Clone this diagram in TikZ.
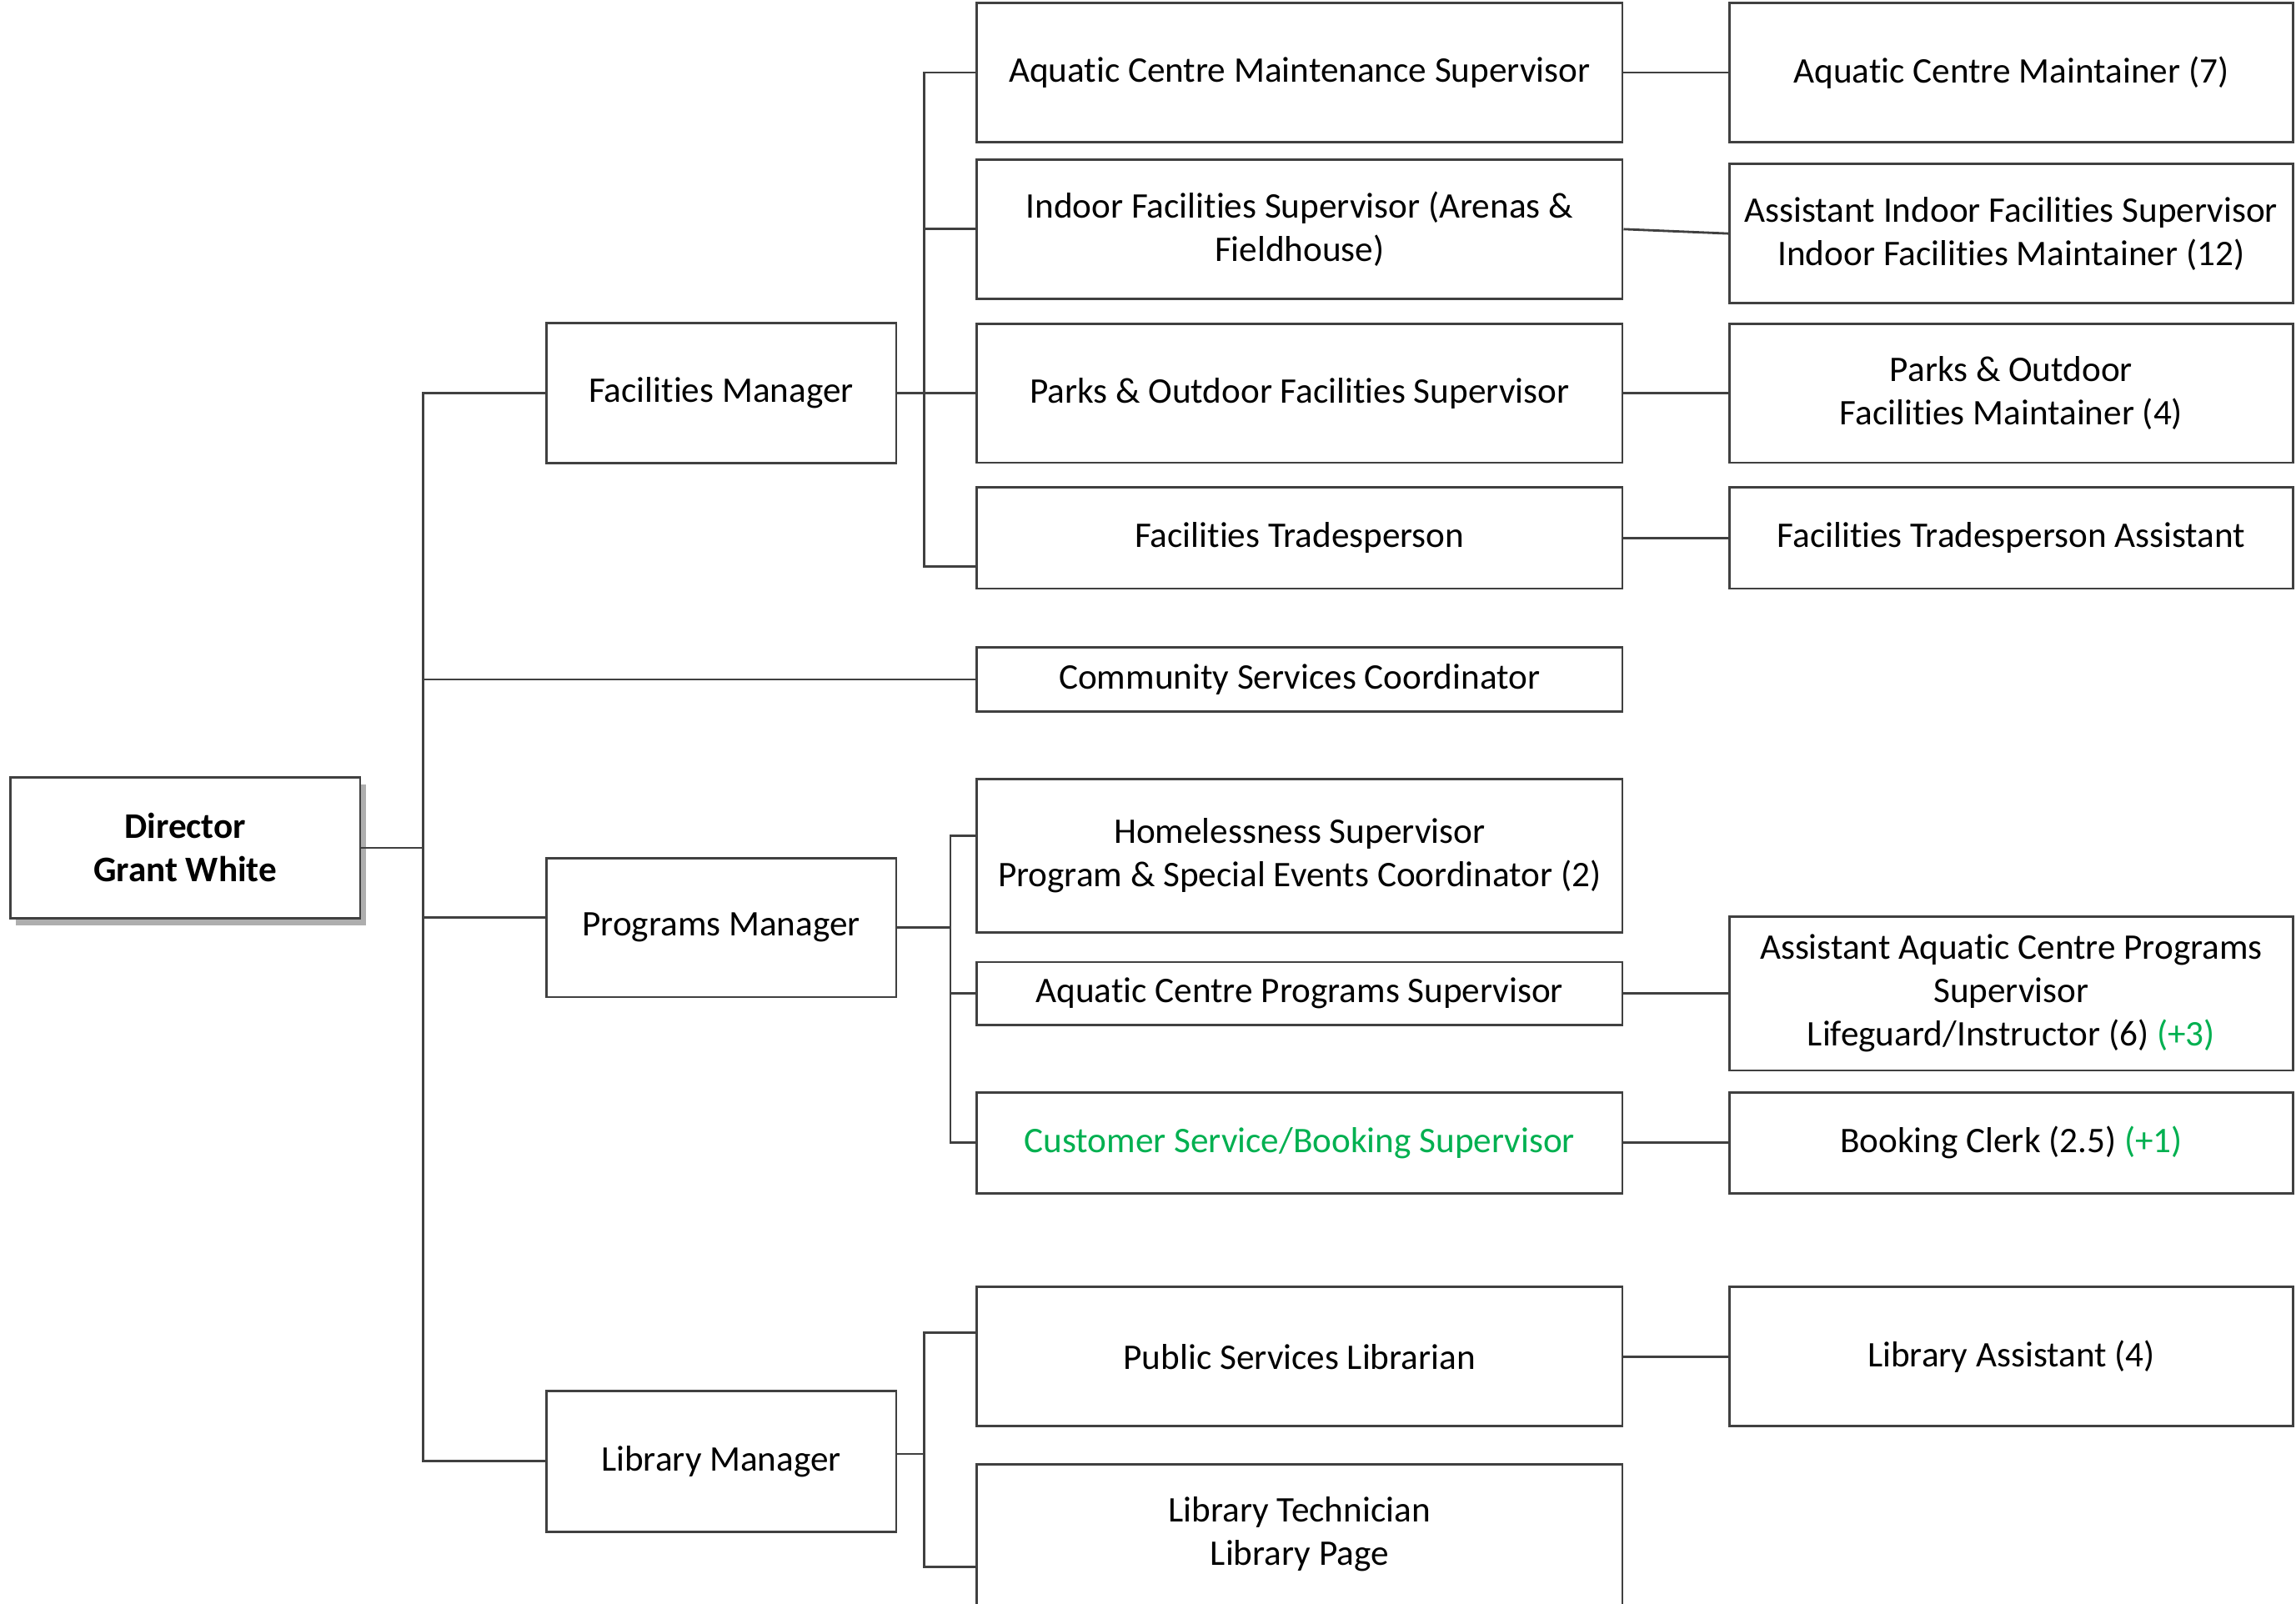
\documentclass[tikz,border=0pt]{standalone}
\usepackage{fontspec}
\setmainfont[RawFeature={-liga;-clig;-calt;-dlig}]{Carlito}
\usepackage{xcolor}
\usepackage{tikz}
\usetikzlibrary{shadows}
\definecolor{newpos}{HTML}{00B050}
\definecolor{edge}{HTML}{404040}

\begin{document}
\begin{tikzpicture}[x=0.5pt, y=-0.5pt, every node/.style={font=\fontsize{12.3pt}{14.8pt}\selectfont},
  box/.style={draw=edge,line width=0.8pt,fill=white,align=center,inner sep=0pt},
  boss/.style={box,minimum width=119.5pt,minimum height=48pt,font=\fontsize{12.3pt}{14.8pt}\selectfont\bfseries,
    drop shadow={shadow xshift=2pt,shadow yshift=-2.5pt,opacity=0.45,fill=black!70}},
  mgr/.style={box,minimum width=119.5pt},
  sup/.style={box,minimum width=220.5pt},
  staff/.style={box,minimum width=192.5pt},
  link/.style={draw=edge,line width=0.8pt}]
\useasboundingbox (0,0) rectangle (1568,1095);
\clip (0,0) rectangle (1568,1095);

% bus lines
\coordinate (trunk) at (289,0);
\coordinate (fbus) at (631,0);
\coordinate (pbus) at (649,0);
\coordinate (lbus) at (631,0);

% director and managers
\node[boss] (dir) at (126.5,579) {Director\\Grant White};
\node[mgr,minimum height=48pt] (fm) at (492.5,268.5) {Facilities Manager};
\node[mgr,minimum height=47.5pt] (pm) at (492.5,633.5) {Programs Manager};
\node[mgr,minimum height=48pt] (lm) at (492.5,998) {Library Manager};

% supervisors
\node[sup,minimum height=47.5pt] (acms) at (887.5,49.5) {Aquatic Centre Maintenance Supervisor};
\node[sup,minimum height=47.5pt] (ifs) at (887.5,156.5) {Indoor Facilities Supervisor (Arenas \&\\Fieldhouse)};
\node[sup,minimum height=47.5pt] (pofs) at (887.5,268.5) {Parks \& Outdoor Facilities Supervisor};
\node[sup,minimum height=34.5pt] (ft) at (887.5,367.5) {Facilities Tradesperson};
\node[sup,minimum height=22pt] (csc) at (887.5,464) {Community Services Coordinator};
\node[sup,minimum height=52.5pt] (hs) at (887.5,584.5) {Homelessness Supervisor\\Program \& Special Events Coordinator (2)};
\node[sup,minimum height=21.5pt] (acps) at (887.5,678.5) {Aquatic Centre Programs Supervisor};
\node[sup,minimum height=34.5pt,text=newpos] (csbs) at (887.5,780.5) {Customer Service/Booking Supervisor};
\node[sup,minimum height=47.5pt] (psl) at (887.5,926.5) {Public Services Librarian};
\node[sup,minimum height=48pt] (lt) at (887.5,1048) {Library Technician\\Library Page};

% staff
\node[staff,minimum height=47.5pt] (acm) at (1373.5,49.5) {Aquatic Centre Maintainer (7)};
\node[staff,minimum height=47.5pt] (aifs) at (1373.5,159.5) {Assistant Indoor Facilities Supervisor\\Indoor Facilities Maintainer (12)};
\node[staff,minimum height=47.5pt] (pofm) at (1373.5,268.5) {Parks \& Outdoor\\Facilities Maintainer (4)};
\node[staff,minimum height=34.5pt] (fta) at (1373.5,367.5) {Facilities Tradesperson Assistant};
\node[staff,minimum height=52.5pt] (aacps) at (1373.5,678.5) {Assistant Aquatic Centre Programs\\Supervisor\\Lifeguard/Instructor (6) \textcolor{newpos}{(+3)}};
\node[staff,minimum height=34.5pt] (bc) at (1373.5,780.5) {Booking Clerk (2.5) \textcolor{newpos}{(+1)}};
\node[staff,minimum height=47.5pt] (la) at (1373.5,926.5) {Library Assistant (4)};

% director to managers
\draw[link] (dir.east) -- (dir.east -| trunk);
\draw[link] (fm.west) -| (trunk |- lm.west) -- (lm.west);
\draw[link] (csc.west) -- (csc.west -| trunk);
\draw[link] ([yshift=3.5pt]pm.west) -- ([yshift=3.5pt]pm.west -| trunk);

% facilities
\draw[link] (fm.east) -- (pofs.west);
\draw[link] (acms.west) -| ([yshift=-9.75pt]ft.west -| fbus) -- ([yshift=-9.75pt]ft.west);
\draw[link] (ifs.west) -- (ifs.west -| fbus);

% programs
\draw[link] (pm.east) -- (pm.east -| pbus);
\draw[link] ([yshift=6.75pt]hs.west) -| (csbs.west -| pbus) -- (csbs.west);
\draw[link] (acps.west) -- (acps.west -| pbus);

% library
\draw[link] ([yshift=2.5pt]lm.east) -- ([yshift=2.5pt]lm.east -| lbus);
\draw[link] ([yshift=8.25pt]psl.west) -| ([yshift=-11pt]lt.west -| lbus) -- ([yshift=-11pt]lt.west);

% supervisors to staff
\draw[link] (acms.east) -- (acm.west);
\draw[link] (ifs.east) -- (aifs.west);
\draw[link] (pofs.east) -- (pofm.west);
\draw[link] (ft.east) -- (fta.west);
\draw[link] (acps.east) -- (aacps.west);
\draw[link] (csbs.east) -- (bc.west);
\draw[link] (psl.east) -- (la.west);
\end{tikzpicture}
\end{document}
